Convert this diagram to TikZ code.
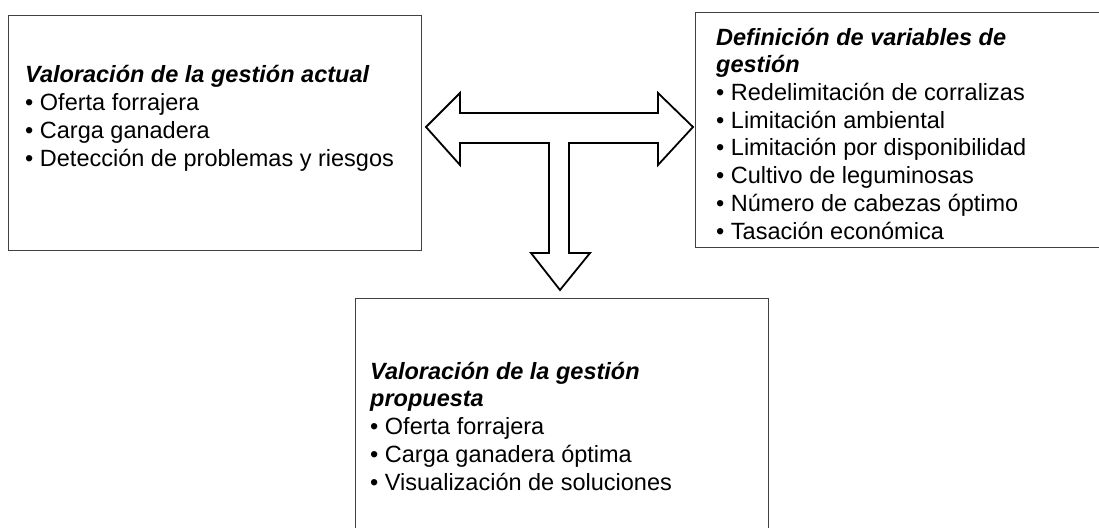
\documentclass[tikz,border=0pt]{standalone}
\usepackage{fontspec}
\setmainfont{Liberation Sans}
\usetikzlibrary{positioning,calc}

\begin{document}
\begin{tikzpicture}[x=1pt, y=-1pt,
    every node/.style={align=left, font=\fontsize{23.5}{27.7}\selectfont},
    panel/.style={rectangle, draw=black!75, line width=1.3pt, anchor=north west, inner sep=0pt},
    paneltext/.style={anchor=base west, inner sep=0pt},
    blockarrow/.style={draw, line width=1.8pt, fill=white, line join=miter}]
  \useasboundingbox (0,0) rectangle (1099,527);

  % the three panels
  \node (actual) [panel, minimum width=413pt, minimum height=235pt] at (8,15) {};
  \node (vars) [panel, minimum width=420pt, minimum height=235pt] at (695,12) {};
  \node (propuesta) [panel, minimum width=413pt, minimum height=260pt] at (355,298) {};

  % texts (anchored at the baseline of their last line)
  \node (actualtxt) [paneltext] at (25,166) {\textbf{\textit{Valoración de la gestión actual}}\\
    • Oferta forrajera\\• Carga ganadera\\• Detección de problemas y riesgos};
  \node (varstxt) [paneltext] at (716,239) {\textbf{\textit{Definición de variables de}}\\
    \textbf{\textit{gestión}}\\• Redelimitación de corralizas\\• Limitación ambiental\\
    • Limitación por disponibilidad\\• Cultivo de leguminosas\\• Número de cabezas óptimo\\
    • Tasación económica};
  \node (propuestatxt) [paneltext] at (370,490) {\textbf{\textit{Valoración de la gestión}}\\
    \textbf{\textit{propuesta}}\\• Oferta forrajera\\• Carga ganadera óptima\\
    • Visualización de soluciones};

  % T-shaped block arrow
  \draw[blockarrow] (426,127) -- (460,93) -- (460,113) -- (658,113) -- (658,93) -- (693,127)
    -- (658,165) -- (658,143) -- (569,143) -- (569,253) -- (590,253) -- (560,290)
    -- (531,253) -- (549,253) -- (549,143) -- (460,143) -- (460,165) -- cycle;
\end{tikzpicture}
\end{document}
